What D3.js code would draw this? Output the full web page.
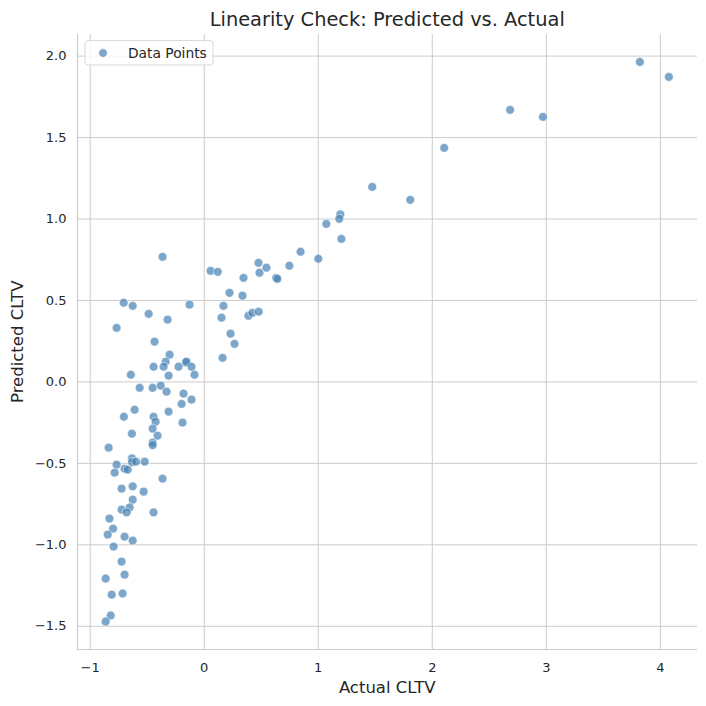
<!DOCTYPE html>
<html>
<head>
<meta charset="utf-8">
<script src="https://cdn.jsdelivr.net/npm/d3@7"></script>
<style>
  html, body { margin: 0; padding: 0; background: #fff; }
  svg { display: block; font-family: "DejaVu Sans", sans-serif; }
</style>
</head>
<body>
<svg id="chart" width="706" height="706"></svg>
<script>
// ---- Data ----
const actualCLTV = [
  3.825, 4.079, 2.687, 2.975, 2.109, 1.478, 1.811, 1.198, 1.189, 1.075,
  1.207, 0.849, 1.005, -0.361, 0.060, 0.123, 0.480, 0.550, 0.489, 0.751,
  0.349, 0.635, 0.646, 0.226, 0.340, 0.173, 0.156, 0.392, 0.427, 0.482,
  0.235, 0.270, 0.165, -0.702, -0.623, -0.124, -0.483, -0.317, -0.764, -0.431,
  -0.299, -0.334, -0.159, -0.151, -0.440, -0.352, -0.221, -0.107, -0.081, -0.308,
  -0.639, -0.562, -0.448, -0.377, -0.326, -0.177, -0.107, -0.194, -0.606, -0.700,
  -0.440, -0.422, -0.308, -0.186, -0.630, -0.448, -0.405, -0.448, -0.448, -0.834,
  -0.629, -0.629, -0.594, -0.518, -0.764, -0.694, -0.667, -0.781, -0.361, -0.720,
  -0.623, -0.527, -0.623, -0.720, -0.650, -0.676, -0.440, -0.827, -0.795, -0.842,
  -0.694, -0.623, -0.790, -0.720, -0.860, -0.694, -0.807, -0.711, -0.816, -0.860
];
const predictedCLTV = [
  1.961, 1.869, 1.667, 1.624, 1.434, 1.194, 1.115, 1.025, 0.998, 0.967,
  0.875, 0.796, 0.753, 0.765, 0.679, 0.673, 0.728, 0.698, 0.667, 0.710,
  0.636, 0.636, 0.630, 0.544, 0.526, 0.464, 0.391, 0.403, 0.421, 0.428,
  0.293, 0.231, 0.145, 0.483, 0.464, 0.471, 0.415, 0.379, 0.329, 0.244,
  0.164, 0.121, 0.115, 0.121, 0.090, 0.090, 0.090, 0.090, 0.041, 0.035,
  0.041, -0.039, -0.039, -0.026, -0.063, -0.075, -0.112, -0.138, -0.174, -0.217,
  -0.217, -0.247, -0.186, -0.253, -0.321, -0.290, -0.333, -0.376, -0.391, -0.407,
  -0.472, -0.495, -0.493, -0.493, -0.511, -0.536, -0.542, -0.560, -0.597, -0.658,
  -0.644, -0.677, -0.726, -0.787, -0.773, -0.804, -0.804, -0.842, -0.904, -0.940,
  -0.953, -0.977, -1.014, -1.106, -1.210, -1.186, -1.309, -1.302, -1.437, -1.474
];
const xTicks = [-1, 0, 1, 2, 3, 4];
const xTickLabels = ["−1", "0", "1", "2", "3", "4"];
const yTicks = [-1.5, -1.0, -0.5, 0.0, 0.5, 1.0, 1.5, 2.0];
const yTickLabels = ["−1.5", "−1.0", "−0.5", "0.0", "0.5", "1.0", "1.5", "2.0"];
const titleText = "Linearity Check: Predicted vs. Actual";
const xLabelText = "Actual CLTV";
const yLabelText = "Predicted CLTV";
const legendLabel = "Data Points";

const points = actualCLTV.map((a, i) => ({ x: a, y: predictedCLTV[i] }));

// ---- Layout ----
const svg = d3.select("#chart");
const plot = { left: 77.5, right: 697, top: 34, bottom: 649.5 };

function padded(ext) {
  const span = ext[1] - ext[0];
  return [ext[0] - 0.05 * span, ext[1] + 0.05 * span];
}
const x = d3.scaleLinear().domain(padded(d3.extent(actualCLTV))).range([plot.left, plot.right]);
const y = d3.scaleLinear().domain(padded(d3.extent(predictedCLTV))).range([plot.bottom, plot.top]);

const gridColor = "#cccccc";
const textColor = "#262626";

// Gridlines
const xAxis = d3.axisBottom(x).tickValues(xTicks)
  .tickFormat((d, i) => xTickLabels[i])
  .tickSize(-(plot.bottom - plot.top)).tickPadding(13);
const yAxis = d3.axisLeft(y).tickValues(yTicks)
  .tickFormat((d, i) => yTickLabels[i])
  .tickSize(-(plot.right - plot.left)).tickPadding(11);

const gx = svg.append("g").attr("transform", `translate(0,${plot.bottom})`).call(xAxis);
const gy = svg.append("g").attr("transform", `translate(${plot.left},0)`).call(yAxis);

[gx, gy].forEach(g => {
  g.select(".domain").remove();
  g.selectAll(".tick line").attr("stroke", gridColor).attr("stroke-width", 1);
  g.selectAll(".tick text").attr("fill", textColor)
    .style("font-family", "'DejaVu Sans', sans-serif").style("font-size", "13px");
});

// Spines (left & bottom only)
svg.append("line").attr("x1", plot.left).attr("x2", plot.left)
  .attr("y1", plot.top).attr("y2", plot.bottom)
  .attr("stroke", gridColor).attr("stroke-width", 1.2);
svg.append("line").attr("x1", plot.left).attr("x2", plot.right)
  .attr("y1", plot.bottom).attr("y2", plot.bottom)
  .attr("stroke", gridColor).attr("stroke-width", 1.2);

// Points
const pointColor = "#4682b4";
svg.append("g").selectAll("circle").data(points).join("circle")
  .attr("cx", d => x(d.x)).attr("cy", d => y(d.y)).attr("r", 4.4)
  .attr("fill", pointColor).attr("fill-opacity", 0.7)
  .attr("stroke", "#ffffff").attr("stroke-width", 0.75).attr("stroke-opacity", 0.7);

// Title & labels
svg.append("text").attr("x", (plot.left + plot.right) / 2).attr("y", 25.5)
  .attr("text-anchor", "middle").attr("fill", textColor)
  .style("font-size", "19.4px").text(titleText);
svg.append("text").attr("x", (plot.left + plot.right) / 2).attr("y", 693)
  .attr("text-anchor", "middle").attr("fill", textColor)
  .style("font-size", "16.5px").text(xLabelText);
svg.append("text").attr("transform", `translate(23,${(plot.top + plot.bottom) / 2}) rotate(-90)`)
  .attr("text-anchor", "middle").attr("fill", textColor)
  .style("font-size", "16.5px").text(yLabelText);

// Legend
const lg = svg.append("g");
lg.append("rect").attr("x", 85).attr("y", 40.5).attr("width", 128).attr("height", 24.5)
  .attr("rx", 3).attr("fill", "#ffffff").attr("fill-opacity", 0.8)
  .attr("stroke", "#d9d9d9").attr("stroke-width", 1);
lg.append("circle").attr("cx", 103).attr("cy", 53).attr("r", 4.4)
  .attr("fill", pointColor).attr("fill-opacity", 0.7)
  .attr("stroke", "#ffffff").attr("stroke-width", 0.75);
lg.append("text").attr("x", 128).attr("y", 57.5).attr("fill", textColor)
  .style("font-size", "13.8px").text(legendLabel);
</script>
</body>
</html>
